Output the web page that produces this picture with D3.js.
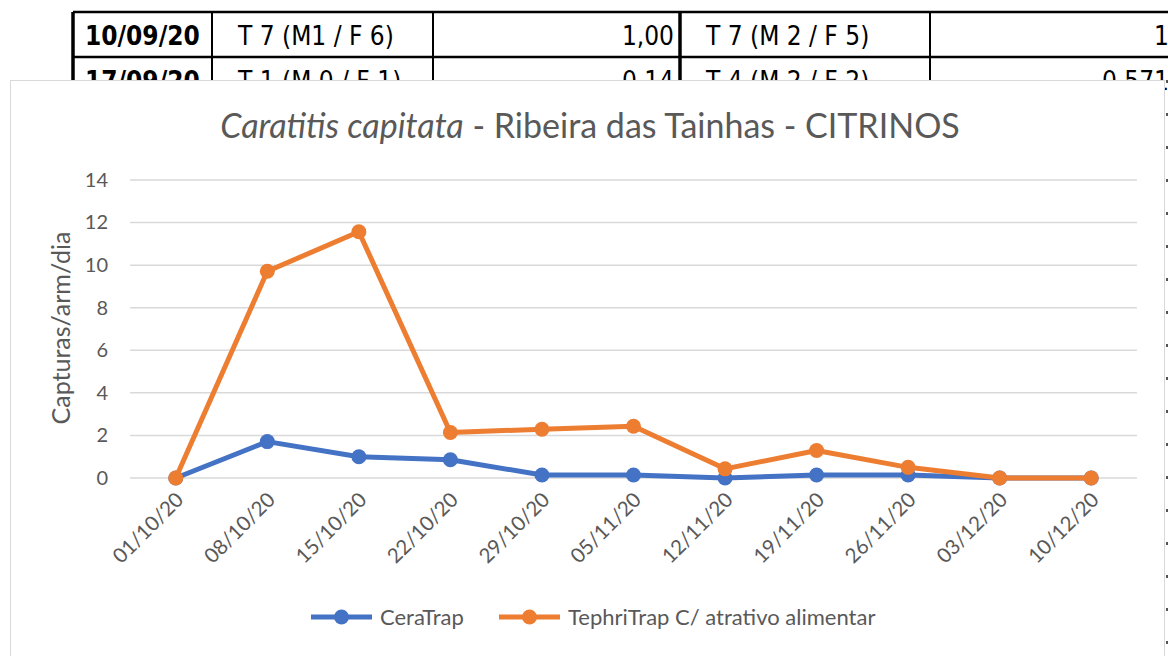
<!DOCTYPE html>
<html>
<head>
<meta charset="utf-8">
<script src="https://cdn.jsdelivr.net/npm/d3@7"></script>
<style>
  html, body { margin: 0; padding: 0; background: #fff; }
  svg { display: block; }
</style>
</head>
<body>
<svg id="chart" width="1168" height="656"></svg>
<script>
// data
var dates = ["01/10/20", "08/10/20", "15/10/20", "22/10/20", "29/10/20", "05/11/20",
             "12/11/20", "19/11/20", "26/11/20", "03/12/20", "10/12/20"];
var ceraTrap = [0, 1.71, 1.0, 0.86, 0.14, 0.14, 0, 0.14, 0.14, 0, 0];
var tephriTrap = [0, 9.71, 11.57, 2.14, 2.29, 2.43, 0.43, 1.29, 0.5, 0, 0];
var yTicks = [0, 2, 4, 6, 8, 10, 12, 14];

// table rows peeking out behind the chart
var tableRows = [
  ["10/09/20", "T 7 (M1 / F 6)", "1,00", "T 7 (M 2 / F 5)", "1"],
  ["17/09/20", "T 1 (M 0 / F 1)", "0,14", "T 4 (M 2 / F 2)", "0,571"]
];

var svg = d3.select("#chart");
var grey = "#595959";
var font = "Lato, 'Open Sans', sans-serif";

// ---- background table ----
var colX = [73, 212, 433, 680, 930, 1175];
var rowY = [12, 57, 102];
var tbl = svg.append("g");
tableRows.forEach(function(row, r) {
  var y0 = rowY[r];
  row.forEach(function(txt, c) {
    var anchor = (c == 2 || c == 4) ? "end" : "start";
    var x = anchor == "end" ? colX[c + 1] - 6 : colX[c] + (c == 0 ? 12 : 26);
    tbl.append("text")
      .attr("x", x).attr("y", y0 + 33)
      .attr("text-anchor", anchor)
      .attr("font-family", "'DejaVu Sans Condensed', sans-serif")
      .attr("font-weight", c == 0 ? "bold" : "normal")
      .attr("font-size", 26)
      .attr("fill", "#000")
      .text(txt);
  });
});
tbl.append("line").attr("x1", colX[0]).attr("x2", 1168).attr("y1", rowY[0]).attr("y2", rowY[0])
  .attr("stroke", "#000").attr("stroke-width", 2.5);
tbl.append("line").attr("x1", colX[0]).attr("x2", 1168).attr("y1", rowY[1]).attr("y2", rowY[1])
  .attr("stroke", "#000").attr("stroke-width", 2.5);
colX.slice(0, 5).forEach(function(x, i) {
  tbl.append("line").attr("x1", x).attr("x2", x).attr("y1", rowY[0]).attr("y2", rowY[2])
    .attr("stroke", "#000").attr("stroke-width", (i == 0 || i == 3) ? 3.5 : 2);
});
tbl.append("line").attr("x1", 1167).attr("x2", 1167).attr("y1", 80).attr("y2", 656)
  .attr("stroke", "#555").attr("stroke-width", 2).attr("stroke-dasharray", "3,30");

// ---- chart frame ----
svg.append("rect")
  .attr("x", 10.5).attr("y", 80.5).attr("width", 1154).attr("height", 590)
  .attr("fill", "#fff").attr("stroke", "#d9d9d9").attr("stroke-width", 1);

var plot = { left: 130, right: 1137, top: 180, bottom: 478 };

var x = d3.scaleBand().domain(dates).range([plot.left, plot.right]);
var y = d3.scaleLinear().domain([0, 14]).range([plot.bottom, plot.top]);
var cx = function(d) { return x(d) + x.bandwidth() / 2; };

// gridlines
svg.append("g").selectAll("line").data(yTicks).enter().append("line")
  .attr("x1", plot.left).attr("x2", plot.right)
  .attr("y1", function(d) { return y(d); }).attr("y2", function(d) { return y(d); })
  .attr("stroke", "#d9d9d9").attr("stroke-width", 1.5);

// y axis labels
var yAxis = svg.append("g").attr("transform", "translate(" + (plot.left - 22) + ",0)")
  .call(d3.axisLeft(y).tickValues(yTicks).tickSize(0).tickPadding(0));
yAxis.select(".domain").remove();
yAxis.selectAll("text").attr("font-family", font).attr("font-size", 20).attr("fill", grey);

// x axis labels
var xAxis = svg.append("g").attr("transform", "translate(0," + plot.bottom + ")")
  .call(d3.axisBottom(x).tickSize(0).tickPadding(0));
xAxis.select(".domain").remove();
xAxis.selectAll("text")
  .attr("font-family", font).attr("font-size", 20.5).attr("fill", grey)
  .attr("text-anchor", "end").attr("dy", null).attr("y", 0)
  .attr("transform", "translate(9,23) rotate(-45)");

// title
var title = svg.append("text").attr("x", 590).attr("y", 138)
  .attr("text-anchor", "middle").attr("font-family", font).attr("font-size", 34).attr("fill", grey);
title.append("tspan").attr("font-style", "italic").text("Caratitis capitata");
title.append("tspan").text(" - Ribeira das Tainhas - CITRINOS");

// y axis title
svg.append("text")
  .attr("transform", "translate(70,328) rotate(-90)")
  .attr("text-anchor", "middle").attr("font-family", font).attr("font-size", 25).attr("fill", grey)
  .text("Capturas/arm/dia");

// series
var series = [
  { name: "CeraTrap", values: ceraTrap, color: "#4472C4" },
  { name: "TephriTrap C/ atrativo alimentar", values: tephriTrap, color: "#ED7D31" }
];
var line = d3.line().x(function(d, i) { return cx(dates[i]); }).y(function(d) { return y(d); });

series.forEach(function(s) {
  var g = svg.append("g");
  g.append("path").datum(s.values).attr("d", line)
    .attr("fill", "none").attr("stroke", s.color).attr("stroke-width", 5)
    .attr("stroke-linejoin", "round");
  g.selectAll("circle").data(s.values).enter().append("circle")
    .attr("cx", function(d, i) { return cx(dates[i]); })
    .attr("cy", function(d) { return y(d); })
    .attr("r", 7.5).attr("fill", s.color);
});

// legend
var legX = [311, 499];
series.forEach(function(s, i) {
  var g = svg.append("g").attr("transform", "translate(" + legX[i] + ",617)");
  g.append("line").attr("x1", 0).attr("x2", 61).attr("y1", 0).attr("y2", 0)
    .attr("stroke", s.color).attr("stroke-width", 5);
  g.append("circle").attr("cx", 30.5).attr("cy", 0).attr("r", 7.5).attr("fill", s.color);
  g.append("text").attr("x", 69).attr("y", 8)
    .attr("font-family", font).attr("font-size", 22).attr("fill", grey).text(s.name);
});
</script>
</body>
</html>
